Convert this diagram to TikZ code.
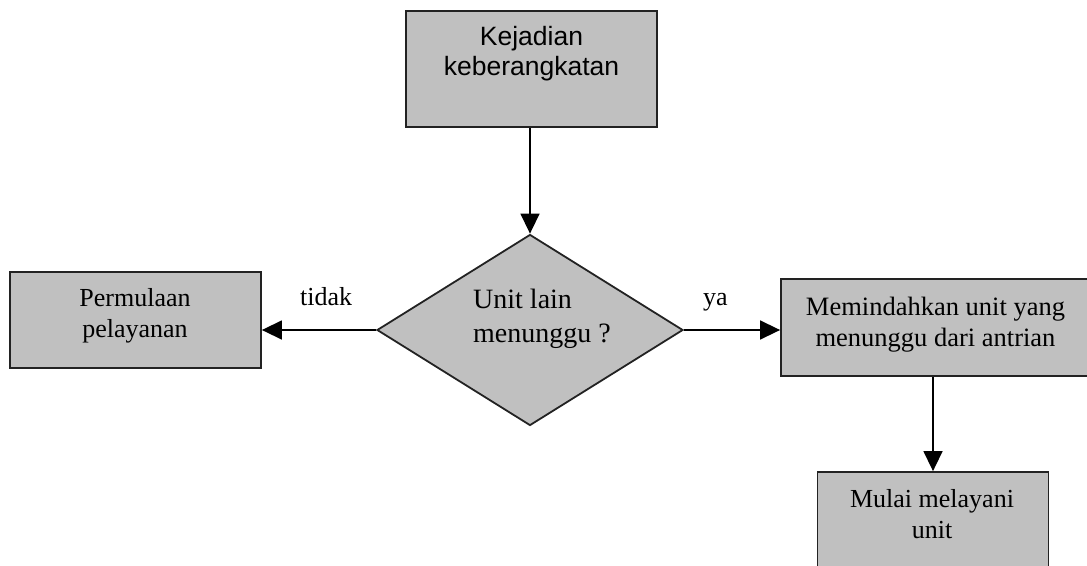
\documentclass[tikz,border=0pt]{standalone}
\usepackage{fontspec}
\setmainfont{Liberation Serif}
\newfontfamily\arialf{Liberation Sans}
\usetikzlibrary{shapes.geometric,arrows.meta}
\definecolor{boxgray}{HTML}{C0C0C0}
\definecolor{edgegray}{HTML}{222222}
\begin{document}
\begin{tikzpicture}[x=1pt,y=-1pt,
  box/.style={draw=edgegray, line width=1.8pt, fill=boxgray, inner sep=0pt},
  lbl/.style={inner sep=0pt, anchor=base, align=center, font=\fontsize{26}{31}\selectfont},
  conn/.style={line width=1.5pt, -{Triangle[length=20pt,width=19pt]}}]
\useasboundingbox (0,0) rectangle (1087,565);
\clip (0,0) rectangle (1087,565);
% boxes
\node[box, minimum width=251pt, minimum height=116pt] (kej) at (531.5,69) {};
\node[box, diamond, minimum width=306pt, minimum height=191pt] (dec) at (530,330) {};
\node[box, minimum width=251pt, minimum height=96pt] (perm) at (135.5,320) {};
\node[box, minimum width=319pt, minimum height=97pt] (mem) at (940.5,327.5) {};
\node[box, minimum width=231pt, minimum height=128pt] (mul) at (933,536) {};
% connectors
\draw[conn] (dec.north |- kej.south) -- (dec.north);
\draw[conn] (dec.west) -- (dec.west -| perm.east);
\draw[conn] (dec.east) -- (dec.east -| mem.west);
\draw[conn] (mul.north |- mem.south) -- (mul.north);
% texts
\node[lbl, font=\arialf\fontsize{26.5}{30}\selectfont] (kejt) at (531.5,75) {Kejadian\\keberangkatan};
\node[lbl, anchor=base west, align=left, font=\fontsize{28}{34}\selectfont] (dect) at (473,342) {Unit lain\\menunggu ?};
\node[lbl] (permt) at (135,337) {Permulaan\\pelayanan};
\node[lbl, font=\fontsize{26.5}{31}\selectfont] (memt) at (935.5,346) {Memindahkan unit yang\\menunggu dari antrian};
\node[lbl] (mult) at (932,538) {Mulai melayani\\unit};
% edge labels
\node[lbl, anchor=base west] (tidak) at (300,305) {tidak};
\node[lbl, anchor=base west] (ya) at (703,305) {ya};
\end{tikzpicture}
\end{document}
